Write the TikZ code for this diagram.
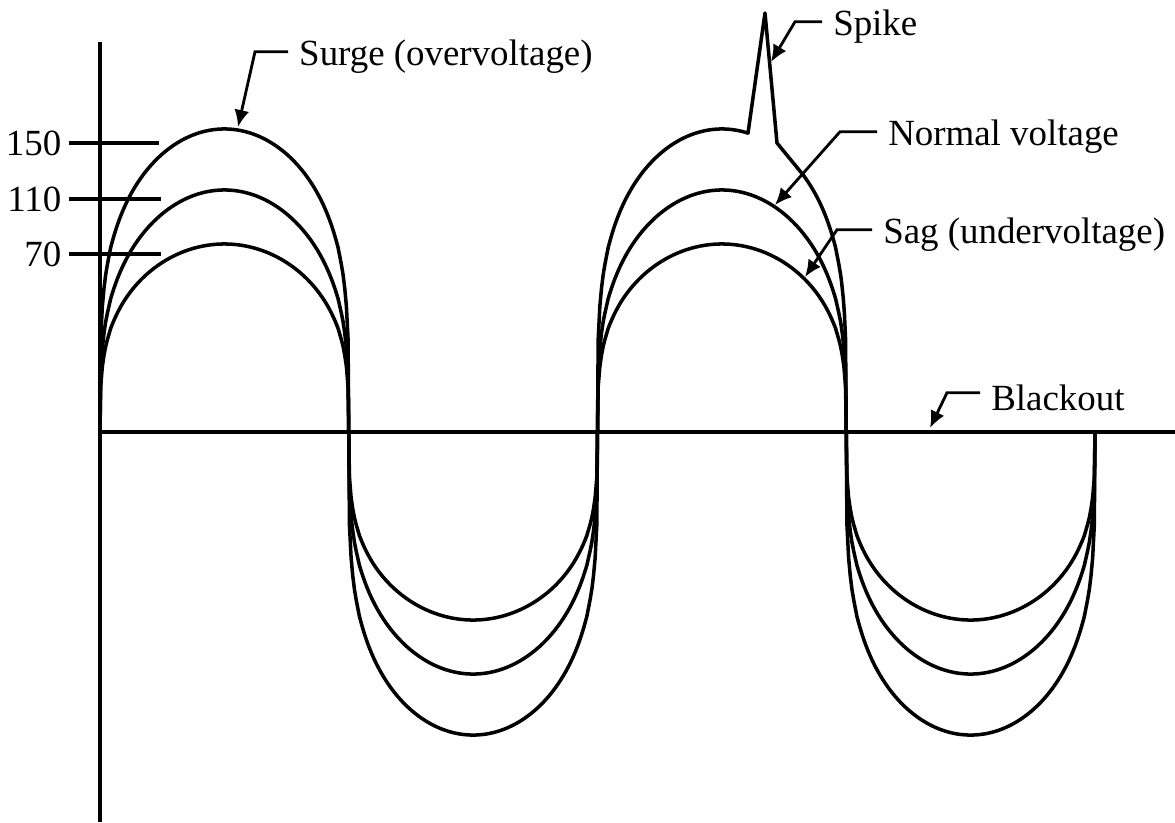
\documentclass[tikz,border=0pt]{standalone}
\usepackage{fontspec}
\setmainfont{Liberation Serif}
\usetikzlibrary{arrows.meta}

\begin{document}
\begin{tikzpicture}[
			font=\fontsize{10.5}{12}\selectfont,
			wave/.style={line width=1pt, line join=round},
			axis/.style={line width=1pt},
			tickline/.style={line width=0.9pt},
			ticklabel/.style={anchor=east, inner sep=0pt},
			callout/.style={anchor=west, inner sep=3pt},
			leader/.style={-{Latex[length=1.7mm, width=1.5mm]}, line width=0.8pt}
		]
		\useasboundingbox (-1,-3.9) rectangle (10.75,4.32);
		\coordinate (origin) at (0,0);
		\coordinate (ytop) at (0,3.90);
		\coordinate (ybot) at (0,-3.90);
		\coordinate (xend) at (10.75,0);
		\draw[axis] (ytop) -- (ybot);
		\draw[axis] (origin) -- (xend);
		
		\foreach \amp/\ex in {1.88/0.3, 2.42/0.3}
			\foreach \xo/\sg in {0/1, 2.4875/-1, 4.975/1, 7.4625/-1}
				\draw[wave] (\xo,0) -- plot[domain=0.5:179.5, samples=150] ({\xo+\x/72.362},{\sg*\amp*pow(sin(\x),\ex)}) -- (\xo+2.4875,0);
		\foreach \xo/\sg in {0/1, 2.4875/-1, 7.4625/-1}
			\draw[wave] (\xo,0) -- plot[domain=0.5:179.5, samples=150] ({\xo+\x/72.362},{\sg*3.03*pow(sin(\x),0.25)}) -- (\xo+2.4875,0);
		\draw[wave] (4.975,0) -- plot[domain=0.5:108.9, samples=90] ({4.975+\x/72.362},{3.03*pow(sin(\x),0.25)})
			-- (6.65,4.19) -- (6.77,2.89)
			-- plot[domain=148.7:179.5, samples=40] ({4.975+\x/72.362},{3.03*pow(sin(\x),0.25)}) -- (7.4625,0);
		
		\node[ticklabel] (l150) at (-0.38,2.89) {150};
		\node[ticklabel] (l110) at (-0.38,2.33) {110};
		\node[ticklabel] (l70) at (-0.38,1.78) {70};
		\draw[tickline] ([xshift=2pt]l150.east) -- ++(0.90,0);
		\draw[tickline] ([xshift=2pt]l110.east) -- ++(0.92,0);
		\draw[tickline] ([xshift=2pt]l70.east) -- ++(0.92,0);
		
		\coordinate (surgetip) at (1.38,3.05);
		\coordinate (spiketip) at (6.71,3.70);
		\coordinate (normaltip) at (6.75,2.27);
		\coordinate (sagtip) at (7.05,1.55);
		\coordinate (blackouttip) at (8.30,0.04);
		
		\node[callout] (surge) at (1.88,3.75) {Surge (overvoltage)};
		\node[callout] (spike) at (7.22,4.05) {Spike};
		\node[callout] (normal) at (7.77,2.95) {Normal voltage};
		\node[callout] (sag) at (7.72,1.97) {Sag (undervoltage)};
		\node[callout] (blackout) at (8.80,0.34) {Blackout};
		
		\draw[leader] ([yshift=1.5pt]surge.west) -- ++(-0.33,0) -- (surgetip);
		\draw[leader] ([yshift=1.5pt]spike.west) -- ++(-0.27,0) -- (spiketip);
		\draw[leader] ([yshift=1.5pt]normal.west) -- ++(-0.37,0) -- (normaltip);
		\draw[leader] ([yshift=1.5pt]sag.west) -- ++(-0.35,0) -- (sagtip);
		\draw[leader] ([yshift=1.5pt]blackout.west) -- ++(-0.33,0) -- (blackouttip);
		\end{tikzpicture}
\end{document}
